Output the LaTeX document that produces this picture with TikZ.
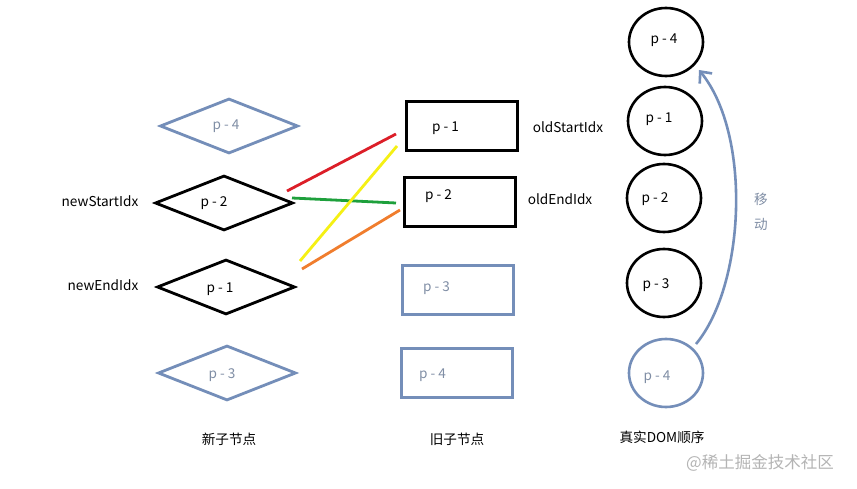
\documentclass[tikz,border=0pt]{standalone}
\usepackage{fontspec}
\setmainfont{Noto Sans CJK SC}
\usetikzlibrary{shapes.geometric,arrows.meta}
\definecolor{nodeblue}{RGB}{116,142,185}
\definecolor{bluetext}{RGB}{128,142,165}
\definecolor{lred}{RGB}{220,30,40}
\definecolor{lgreen}{RGB}{30,160,60}
\definecolor{lyellow}{RGB}{245,240,20}
\definecolor{lorange}{RGB}{240,125,45}
\definecolor{wmgray}{RGB}{180,180,180}
\tikzset{
  txt/.style={font=\fontsize{13.6}{16}\selectfont, inner sep=0pt},
  dia/.style={diamond, draw, line width=2.8pt, minimum width=138pt, minimum height=55pt, inner sep=0pt},
  box/.style={rectangle, draw, line width=2.8pt, minimum width=111pt, minimum height=49pt, inner sep=0pt},
  circ/.style={ellipse, draw, line width=2.6pt, minimum width=74pt, minimum height=68pt, inner sep=0pt},
  blk/.style={draw=black},
  blu/.style={draw=nodeblue},
  bt/.style={txt, text=bluetext},
  bk/.style={txt, text=black},
  conn/.style={line width=2.8pt},
}
\begin{document}
\begin{tikzpicture}[x=1pt,y=-1pt]
\useasboundingbox (0,0) rectangle (857,489);
\fill[white] (0,0) rectangle (857,489);

% new child nodes (diamonds)
\node[dia,blu] (n4) at (229,126) {};
\node[bt] (n4t) at (226,126) {p - 4};
\node[dia,blk] (n2) at (224,203) {};
\node[bk] (n2t) at (214,203) {p - 2};
\node[dia,blk] (n1) at (226,287) {};
\node[bk] (n1t) at (220,289) {p - 1};
\node[dia,blu] (n3) at (227,373) {};
\node[bt] (n3t) at (222,375) {p - 3};

% old child nodes (rectangles)
\node[box,blk] (o1) at (462,126) {};
\node[bk,anchor=west] (o1t) at (432,128) {p - 1};
\node[box,blk] (o2) at (460,202) {};
\node[bk,anchor=west] (o2t) at (425,196) {p - 2};
\node[box,blu] (o3) at (458,290) {};
\node[bt,anchor=west] (o3t) at (423,288) {p - 3};
\node[box,blu] (o4) at (457,373) {};
\node[bt,anchor=west] (o4t) at (419,375) {p - 4};

% real DOM (circles)
\node[circ,blk] (d4) at (666,42) {};
\node[bk] (d4t) at (664,40) {p - 4};
\node[circ,blk] (d1) at (665,121) {};
\node[bk] (d1t) at (659,119) {p - 1};
\node[circ,blk] (d2) at (664,198) {};
\node[bk] (d2t) at (655,199) {p - 2};
\node[circ,blk] (d3) at (664,283) {};
\node[bk] (d3t) at (656,285) {p - 3};
\node[circ,blu] (d5) at (666,373) {};
\node[bt] (d5t) at (657,377) {p - 4};

% index labels
\node[bk] (nsi) at (100,201) {newStartIdx};
\node[bk] (nei) at (103,285) {newEndIdx};
\node[bk] (osi) at (568,127) {oldStartIdx};
\node[bk] (oei) at (560,199) {oldEndIdx};

% captions
\node[bk] (cap1) at (229,439) {新子节点};
\node[bk] (cap2) at (457,439) {旧子节点};
\node[bk] (cap3) at (662,437) {真实DOM顺序};
\node[txt, text=wmgray, font=\fontsize{16.5}{19}\selectfont] (wm) at (760,463) {@稀土掘金技术社区};

% comparison lines
\coordinate (r1) at (287,191);
\coordinate (r2) at (396,134);
\coordinate (g1) at (292,198);
\coordinate (g2) at (396,203);
\coordinate (y1) at (300,261);
\coordinate (y2) at (397,146);
\coordinate (or1) at (302,269);
\coordinate (or2) at (400,210);
\draw[conn, lred] (r1) -- (r2);
\draw[conn, lgreen] (g1) -- (g2);
\draw[conn, lyellow] (y1) -- (y2);
\draw[conn, lorange] (or1) -- (or2);

% move arrow
\coordinate (ms) at (696,344);
\coordinate (me) at (699,70);
\draw[line width=2.6pt, nodeblue, -{Straight Barb[length=9pt,width=16pt,line width=2.6pt]}]
  (ms) .. controls (745,285) and (752,135) .. (me);
\node[txt, text=bluetext] (mv1) at (761,199) {移};
\node[txt, text=bluetext] (mv2) at (761,224) {动};
\end{tikzpicture}
\end{document}
